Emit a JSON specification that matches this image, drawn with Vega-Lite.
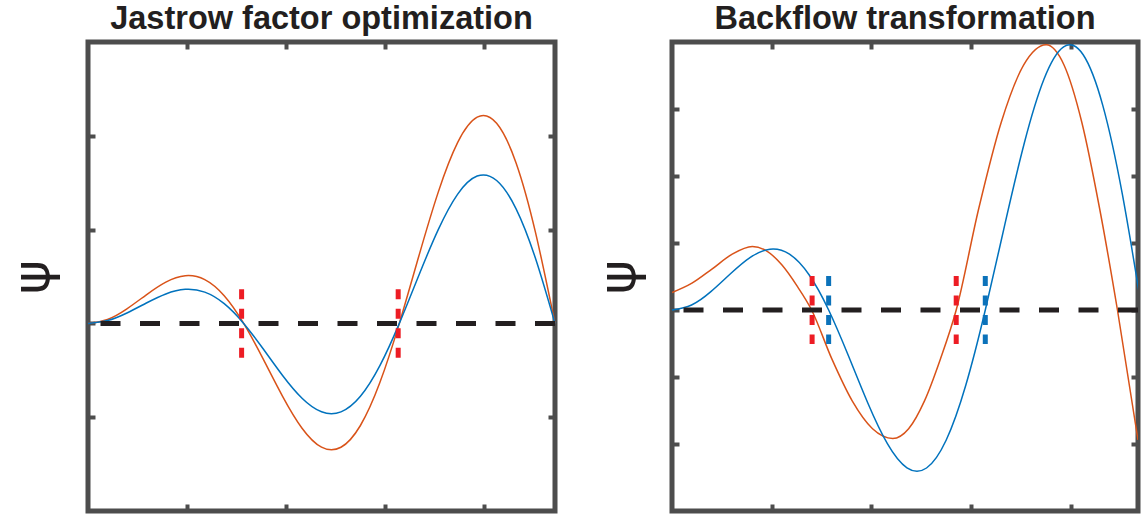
{
 "$schema": "https://vega.github.io/schema/vega-lite/v6.json",
 "background": "white",
 "padding": {"left": 3, "top": 0, "right": 0, "bottom": 0},
 "bounds": "flush",
 "spacing": 117,
 "config": {
  "view": {"stroke": "#4d4d4d", "strokeWidth": 5},
  "axis": {"domain": false, "labels": false, "grid": false, "tickColor": "#4d4d4d", "tickWidth": 4, "tickSize": -7, "title": null},
  "title": {"font": "Liberation Sans", "fontSize": 32.5, "fontWeight": "bold", "color": "#231f20", "anchor": "middle", "offset": 5, "baseline": "alphabetic", "frame": "group"}
 },
 "datasets": {
  "leftOrange": [
   {"x": 0, "y": 0}, {"x": 0.1963, "y": 0.0421}, {"x": 0.3927, "y": 0.1555}, {"x": 0.589, "y": 0.3048}, {"x": 0.7854, "y": 0.4398}, {"x": 0.9817, "y": 0.5079}, {"x": 1.1781, "y": 0.4665}, {"x": 1.3744, "y": 0.2946}, {"x": 1.5708, "y": 0}, {"x": 1.7671, "y": -0.3787}, {"x": 1.9635, "y": -0.7775}, {"x": 2.1598, "y": -1.1175}, {"x": 2.3562, "y": -1.3195}, {"x": 2.5525, "y": -1.3206}, {"x": 2.7489, "y": -1.0885}, {"x": 2.9452, "y": -0.6312}, {"x": 3.1416, "y": 0}, {"x": 3.3379, "y": 0.7154}, {"x": 3.5343, "y": 1.3995}, {"x": 3.7306, "y": 1.9302}, {"x": 3.927, "y": 2.1991}, {"x": 4.1233, "y": 2.1333}, {"x": 4.3197, "y": 1.7105}, {"x": 4.516, "y": 0.9678}, {"x": 4.7124, "y": 0}
  ],
  "leftBlue": [
   {"x": 0, "y": 0}, {"x": 0.1963, "y": 0.0301}, {"x": 0.3927, "y": 0.1111}, {"x": 0.589, "y": 0.2177}, {"x": 0.7854, "y": 0.3142}, {"x": 0.9817, "y": 0.3628}, {"x": 1.1781, "y": 0.3332}, {"x": 1.3744, "y": 0.2104}, {"x": 1.5708, "y": 0}, {"x": 1.7671, "y": -0.2705}, {"x": 1.9635, "y": -0.5554}, {"x": 2.1598, "y": -0.7982}, {"x": 2.3562, "y": -0.9425}, {"x": 2.5525, "y": -0.9433}, {"x": 2.7489, "y": -0.7775}, {"x": 2.9452, "y": -0.4509}, {"x": 3.1416, "y": 0}, {"x": 3.3379, "y": 0.511}, {"x": 3.5343, "y": 0.9996}, {"x": 3.7306, "y": 1.3787}, {"x": 3.927, "y": 1.5708}, {"x": 4.1233, "y": 1.5238}, {"x": 4.3197, "y": 1.2218}, {"x": 4.516, "y": 0.6913}, {"x": 4.7124, "y": 0}
  ],
  "rightBlue": [
   {"x": 0, "y": 0}, {"x": 0.1963, "y": 0.0751}, {"x": 0.3927, "y": 0.2777}, {"x": 0.589, "y": 0.5442}, {"x": 0.7854, "y": 0.7854}, {"x": 0.9817, "y": 0.907}, {"x": 1.1781, "y": 0.833}, {"x": 1.3744, "y": 0.526}, {"x": 1.5708, "y": 0}, {"x": 1.7671, "y": -0.6763}, {"x": 1.9635, "y": -1.3884}, {"x": 2.1598, "y": -1.9955}, {"x": 2.3562, "y": -2.3562}, {"x": 2.5525, "y": -2.3583}, {"x": 2.7489, "y": -1.9437}, {"x": 2.9452, "y": -1.1271}, {"x": 3.1416, "y": 0}, {"x": 3.3379, "y": 1.2774}, {"x": 3.5343, "y": 2.4991}, {"x": 3.7306, "y": 3.4467}, {"x": 3.927, "y": 3.927}, {"x": 4.1233, "y": 3.8096}, {"x": 4.3197, "y": 3.0545}, {"x": 4.516, "y": 1.7283}, {"x": 4.7124, "y": 0}
  ],
  "rightOrange": [
   {"x": 0, "y": 0.26}, {"x": 0.2, "y": 0.4}, {"x": 0.4, "y": 0.61}, {"x": 0.6, "y": 0.83}, {"x": 0.806, "y": 0.948}, {"x": 0.955, "y": 0.876}, {"x": 1.103, "y": 0.67}, {"x": 1.252, "y": 0.363}, {"x": 1.4, "y": 0}, {"x": 1.604, "y": -0.734}, {"x": 1.807, "y": -1.356}, {"x": 2.011, "y": -1.772}, {"x": 2.214, "y": -1.918}, {"x": 2.373, "y": -1.772}, {"x": 2.532, "y": -1.356}, {"x": 2.691, "y": -0.734}, {"x": 2.85, "y": 0}, {"x": 3.076, "y": 1.515}, {"x": 3.301, "y": 2.799}, {"x": 3.527, "y": 3.657}, {"x": 3.752, "y": 3.958}, {"x": 3.931, "y": 3.657}, {"x": 4.11, "y": 2.799}, {"x": 4.288, "y": 1.515}, {"x": 4.467, "y": 0}, {"x": 4.673, "y": -1.94}
  ],
  "leftRed": [{"x": 1.55}, {"x": 3.13}],
  "rightRed": [{"x": 1.405}, {"x": 2.85}],
  "rightBlueMark": [{"x": 1.5708}, {"x": 3.1416}]
 },
 "hconcat": [
  {
   "title": "Jastrow factor optimization",
   "width": 467,
   "height": 469,
   "resolve": {"axis": {"x": "independent", "y": "independent"}},
   "layer": [
    {
     "data": {"name": "leftOrange"},
     "mark": {"type": "line", "color": "#D95319", "strokeWidth": 1.5, "interpolate": "natural"},
     "encoding": {
      "x": {"field": "x", "type": "quantitative", "scale": {"domain": [0, 4.71239], "nice": false, "zero": false}, "axis": {"orient": "bottom", "values": [1, 2, 3, 4]}},
      "y": {"field": "y", "type": "quantitative", "scale": {"domain": [-2, 3], "nice": false}, "axis": {"orient": "left", "values": [-1, 0, 1, 2], "title": "ψ", "titleFont": "DejaVu Sans", "titleFontSize": 52, "titleFontWeight": "normal", "titleColor": "#231f20", "titlePadding": 27}}
     }
    },
    {
     "data": {"name": "leftBlue"},
     "mark": {"type": "line", "color": "#0072BD", "strokeWidth": 1.5, "interpolate": "natural"},
     "encoding": {
      "x": {"field": "x", "type": "quantitative", "axis": {"orient": "top", "values": [1, 2, 3, 4]}},
      "y": {"field": "y", "type": "quantitative", "axis": {"orient": "right", "values": [-1, 0, 1, 2]}}
     }
    },
    {
     "data": {"values": [{}]},
     "mark": {"type": "rule", "color": "#231f20", "strokeWidth": 5, "strokeDash": [20, 19.5]},
     "encoding": {"y": {"datum": 0, "type": "quantitative", "axis": null}}
    },
    {
     "data": {"name": "leftRed"},
     "mark": {"type": "rule", "color": "#ED1C24", "strokeWidth": 5, "strokeDash": [10, 9.5]},
     "encoding": {
      "x": {"field": "x", "type": "quantitative", "axis": null},
      "y": {"datum": 0.365, "type": "quantitative", "axis": null},
      "y2": {"datum": -0.365}
     }
    }
   ]
  },
  {
   "title": "Backflow transformation",
   "width": 466,
   "height": 469,
   "resolve": {"axis": {"x": "independent", "y": "independent"}},
   "layer": [
    {
     "data": {"name": "rightOrange"},
     "mark": {"type": "line", "color": "#D95319", "strokeWidth": 1.5, "interpolate": "monotone", "clip": true},
     "encoding": {
      "x": {"field": "x", "type": "quantitative", "scale": {"domain": [0, 4.673], "nice": false, "zero": false}, "axis": {"orient": "bottom", "values": [1, 2, 3, 4]}},
      "y": {"field": "y", "type": "quantitative", "scale": {"domain": [-3, 4], "nice": false}, "axis": {"orient": "left", "values": [-2, -1, 0, 1, 2, 3], "title": "ψ", "titleFont": "DejaVu Sans", "titleFontSize": 52, "titleFontWeight": "normal", "titleColor": "#231f20", "titlePadding": 25}}
     }
    },
    {
     "data": {"name": "rightBlue"},
     "mark": {"type": "line", "color": "#0072BD", "strokeWidth": 1.5, "interpolate": "natural", "clip": true},
     "encoding": {
      "x": {"field": "x", "type": "quantitative", "axis": {"orient": "top", "values": [1, 2, 3, 4]}},
      "y": {"field": "y", "type": "quantitative", "axis": {"orient": "right", "values": [-2, -1, 0, 1, 2, 3]}}
     }
    },
    {
     "data": {"values": [{}]},
     "mark": {"type": "rule", "color": "#231f20", "strokeWidth": 5, "strokeDash": [20, 19.5]},
     "encoding": {"y": {"datum": 0, "type": "quantitative", "axis": null}}
    },
    {
     "data": {"name": "rightRed"},
     "mark": {"type": "rule", "color": "#ED1C24", "strokeWidth": 5, "strokeDash": [10, 9.5]},
     "encoding": {
      "x": {"field": "x", "type": "quantitative", "axis": null},
      "y": {"datum": 0.507, "type": "quantitative", "axis": null},
      "y2": {"datum": -0.507}
     }
    },
    {
     "data": {"name": "rightBlueMark"},
     "mark": {"type": "rule", "color": "#0B72BA", "strokeWidth": 5, "strokeDash": [10, 9.5]},
     "encoding": {
      "x": {"field": "x", "type": "quantitative", "axis": null},
      "y": {"datum": 0.507, "type": "quantitative", "axis": null},
      "y2": {"datum": -0.507}
     }
    }
   ]
  }
 ]
}
